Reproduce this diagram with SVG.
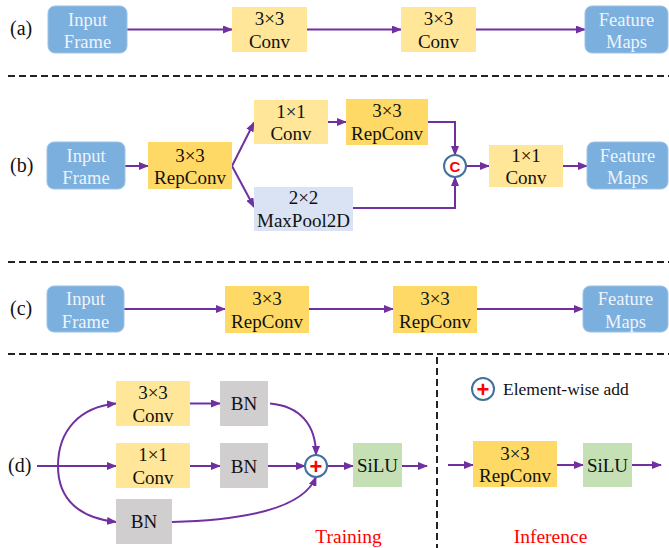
<svg xmlns="http://www.w3.org/2000/svg" width="669" height="548" viewBox="0 0 669 548">
<defs>
<marker id="ah" markerUnits="userSpaceOnUse" markerWidth="10" markerHeight="8" refX="9" refY="4" orient="auto">
<path d="M0,0 L10,4 L0,8 z" fill="#7030A0"/>
</marker>
<style>
.io{fill:#7BAFDE;stroke:#9CC3E6;stroke-width:1}
.io-t{font-family:"Liberation Serif","Times New Roman",serif;font-size:18.5px;fill:#EEF4FB;text-anchor:middle}
.t{font-family:"Liberation Serif","Times New Roman",serif;font-size:19px;fill:#111;text-anchor:middle}
.lab{font-family:"Liberation Serif","Times New Roman",serif;font-size:20px;fill:#111}
.red{font-family:"Liberation Serif","Times New Roman",serif;font-size:19.5px;fill:#FF0000;text-anchor:middle}
.cv{fill:#FFE699}
.rc{fill:#FFD966}
.mp{fill:#DAE3F3}
.bn{fill:#D0CECE}
.si{fill:#C5E0B4}
.ar{fill:none;stroke:#7030A0;stroke-width:2;marker-end:url(#ah)}
.dash{stroke:#222;stroke-width:2;stroke-dasharray:7 4;fill:none}
.op{fill:#fff;stroke:#41719C;stroke-width:2}
.opt{font-family:"Liberation Sans",Arial,sans-serif;font-weight:bold;fill:#FF0000;text-anchor:middle}
</style>
</defs>

<!-- separators -->
<g id="separators">
<line class="dash" x1="8" y1="76" x2="669" y2="76"/>
<line class="dash" x1="8" y1="262" x2="669" y2="262"/>
<line class="dash" x1="8" y1="354" x2="669" y2="354"/>
<line class="dash" x1="437" y1="357" x2="437" y2="548"/>
</g>

<!-- labels -->
<g id="labels">
<text class="lab" x="10" y="35">(a)</text>
<text class="lab" x="10" y="172">(b)</text>
<text class="lab" x="10" y="315">(c)</text>
<text class="lab" x="8" y="472">(d)</text>
<text class="red" x="348.5" y="543">Training</text>
<text class="red" x="550.5" y="543">Inference</text>
</g>

<!-- connectors -->
<g id="connectors">
<!-- (a) -->
<line class="ar" x1="127" y1="29.5" x2="232" y2="29.5"/>
<line class="ar" x1="307" y1="29.5" x2="401" y2="29.5"/>
<line class="ar" x1="476" y1="29.5" x2="585" y2="29.5"/>
<!-- (b) -->
<line class="ar" x1="125" y1="166" x2="148" y2="166"/>
<line class="ar" x1="232" y1="166" x2="254" y2="122.5"/>
<line class="ar" x1="232" y1="166" x2="254" y2="207"/>
<line class="ar" x1="328" y1="122" x2="346" y2="122"/>
<path class="ar" d="M428,122 H455 V155"/>
<path class="ar" d="M353,208 H455 V177"/>
<line class="ar" x1="466" y1="166" x2="489" y2="166"/>
<line class="ar" x1="563" y1="166" x2="587" y2="166"/>
<!-- (c) -->
<line class="ar" x1="124" y1="309" x2="225" y2="309"/>
<line class="ar" x1="309" y1="309" x2="393" y2="309"/>
<line class="ar" x1="477" y1="309" x2="583" y2="309"/>
<!-- (d) training -->
<line class="ar" x1="37" y1="466" x2="116" y2="466"/>
<path class="ar" d="M58,466 C58,430 80,407 116,403.5"/>
<path class="ar" d="M58,466 C58,500 80,518 116,522"/>
<line class="ar" x1="190" y1="403.5" x2="220" y2="403.5"/>
<line class="ar" x1="190" y1="466" x2="220" y2="466"/>
<path class="ar" d="M270,403.5 C300,406 316,425 316,455"/>
<line class="ar" x1="268" y1="466" x2="305" y2="466"/>
<path class="ar" d="M172,522 C250,520 304,507 316,477"/>
<line class="ar" x1="327" y1="466" x2="353" y2="466"/>
<line class="ar" x1="402" y1="466" x2="427" y2="466"/>
<!-- (d) inference -->
<line class="ar" x1="448" y1="465" x2="473" y2="465"/>
<line class="ar" x1="557" y1="465" x2="583" y2="465"/>
<line class="ar" x1="632" y1="465" x2="661" y2="465"/>
</g>

<!-- (a) nodes -->
<g id="a-input"><rect class="io" x="48" y="6" width="79" height="47" rx="7"/><text class="io-t" x="87.5" y="26">Input</text><text class="io-t" x="87.5" y="47.5">Frame</text></g>
<g id="a-conv1"><rect class="cv" x="232" y="7" width="75" height="45"/><text class="t" x="269.5" y="25">3×3</text><text class="t" x="269.5" y="47.5">Conv</text></g>
<g id="a-conv2"><rect class="cv" x="401" y="7" width="75" height="45"/><text class="t" x="438.5" y="25">3×3</text><text class="t" x="438.5" y="47.5">Conv</text></g>
<g id="a-feat"><rect class="io" x="585" y="6" width="83" height="47" rx="7"/><text class="io-t" x="626.5" y="26">Feature</text><text class="io-t" x="626.5" y="47.5">Maps</text></g>

<!-- (b) nodes -->
<g id="b-input"><rect class="io" x="47" y="142" width="78" height="47" rx="7"/><text class="io-t" x="86" y="162">Input</text><text class="io-t" x="86" y="184">Frame</text></g>
<g id="b-rep1"><rect class="rc" x="148" y="142" width="84" height="47"/><text class="t" x="190" y="161.5">3×3</text><text class="t" x="190" y="184">RepConv</text></g>
<g id="b-conv1"><rect class="cv" x="254" y="100" width="74" height="44"/><text class="t" x="291" y="117.5">1×1</text><text class="t" x="291" y="140">Conv</text></g>
<g id="b-rep2"><rect class="rc" x="346" y="99" width="82" height="46"/><text class="t" x="387" y="117">3×3</text><text class="t" x="387" y="140">RepConv</text></g>
<g id="b-pool"><rect class="mp" x="254" y="187" width="99" height="44"/><text class="t" x="303.5" y="204">2×2</text><text class="t" x="303.5" y="227">MaxPool2D</text></g>
<g id="b-concat"><circle class="op" cx="455" cy="166" r="11"/><text class="opt" x="455" y="171.5" font-size="15">C</text></g>
<g id="b-conv2"><rect class="cv" x="489" y="145" width="74" height="42"/><text class="t" x="526" y="162">1×1</text><text class="t" x="526" y="184">Conv</text></g>
<g id="b-feat"><rect class="io" x="587" y="142" width="81" height="47" rx="7"/><text class="io-t" x="627.5" y="162">Feature</text><text class="io-t" x="627.5" y="184">Maps</text></g>

<!-- (c) nodes -->
<g id="c-input"><rect class="io" x="47" y="286" width="77" height="46" rx="7"/><text class="io-t" x="85.5" y="305">Input</text><text class="io-t" x="85.5" y="327.5">Frame</text></g>
<g id="c-rep1"><rect class="rc" x="225" y="286" width="84" height="47"/><text class="t" x="267" y="305">3×3</text><text class="t" x="267" y="328">RepConv</text></g>
<g id="c-rep2"><rect class="rc" x="393" y="286" width="84" height="47"/><text class="t" x="435" y="305">3×3</text><text class="t" x="435" y="328">RepConv</text></g>
<g id="c-feat"><rect class="io" x="583" y="286" width="85" height="46" rx="7"/><text class="io-t" x="625.5" y="305">Feature</text><text class="io-t" x="625.5" y="327.5">Maps</text></g>

<!-- (d) nodes -->
<g id="d-conv3"><rect class="cv" x="116" y="381" width="74" height="45"/><text class="t" x="153" y="399">3×3</text><text class="t" x="153" y="422">Conv</text></g>
<g id="d-bn1"><rect class="bn" x="220" y="381" width="48" height="45"/><text class="t" x="244" y="410">BN</text></g>
<g id="d-conv1"><rect class="cv" x="116" y="443" width="74" height="45"/><text class="t" x="153" y="461">1×1</text><text class="t" x="153" y="484">Conv</text></g>
<g id="d-bn2"><rect class="bn" x="220" y="443" width="48" height="45"/><text class="t" x="244" y="472.5">BN</text></g>
<g id="d-bn3"><rect class="bn" x="116" y="499" width="56" height="45"/><text class="t" x="144" y="528">BN</text></g>
<g id="d-add"><circle class="op" cx="316" cy="466" r="11"/><text class="opt" x="316" y="473.5" font-size="22">+</text></g>
<g id="d-silu1"><rect class="si" x="353" y="443" width="49" height="44"/><text class="t" x="377.5" y="472">SiLU</text></g>
<g id="d-rep"><rect class="rc" x="473" y="441" width="84" height="46"/><text class="t" x="515" y="460">3×3</text><text class="t" x="515" y="482">RepConv</text></g>
<g id="d-silu2"><rect class="si" x="583" y="443" width="49" height="44"/><text class="t" x="607.5" y="472">SiLU</text></g>

<!-- legend -->
<g id="legend"><circle class="op" cx="483" cy="389" r="11"/><text class="opt" x="483" y="396.5" font-size="22">+</text><text x="503" y="395" font-family="'Liberation Serif','Times New Roman',serif" font-size="17.5" fill="#111">Element-wise add</text></g>
</svg>
